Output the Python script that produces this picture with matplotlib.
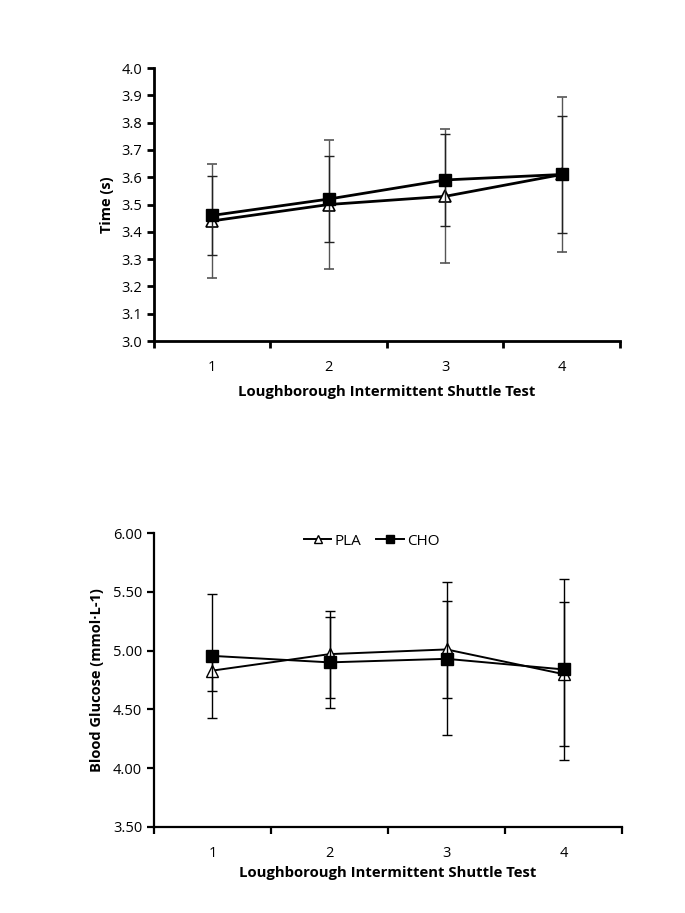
import matplotlib

matplotlib.use("Agg")
import matplotlib.pyplot as plt
from matplotlib.ticker import FixedLocator, FormatStrFormatter

trials = [1, 2, 3, 4]

# sprint time (s)
time_pla = [3.44, 3.50, 3.53, 3.61]
time_pla_sd = [0.21, 0.235, 0.245, 0.285]
time_cho = [3.46, 3.52, 3.59, 3.61]
time_cho_sd = [0.146, 0.157, 0.167, 0.216]

# blood glucose (mmol/L)
glu_pla = [4.83, 4.97, 5.01, 4.80]
glu_pla_sd = [0.17, 0.37, 0.41, 0.61]
glu_cho = [4.955, 4.90, 4.93, 4.84]
glu_cho_sd = [0.53, 0.39, 0.65, 0.77]

plt.rcParams["font.family"] = ["Open Sans", "DejaVu Sans"]

fig = plt.figure(figsize=(6.85, 9.13), dpi=100)
ax1 = fig.add_axes([0.2248, 0.6265, 0.6803, 0.299])
ax2 = fig.add_axes([0.2248, 0.0942, 0.6833, 0.3220])


def style(ax, lw):
    for s in ("top", "right"):
        ax.spines[s].set_visible(False)
    for s in ("left", "bottom"):
        ax.spines[s].set_linewidth(lw)
    ax.set_xlim(0.5, 4.5)
    ax.set_xticks(trials)
    ax.xaxis.set_minor_locator(FixedLocator([0.5, 1.5, 2.5, 3.5, 4.5]))
    ax.tick_params(axis="x", which="major", length=0, pad=14, labelsize=10.5)
    ax.tick_params(axis="x", which="minor", length=5, width=lw, direction="out")
    ax.tick_params(axis="y", length=5, width=lw, direction="out", labelsize=10.5)


# top: sprint time
style(ax1, 2.0)
ax1.errorbar(trials, time_pla, yerr=time_pla_sd, color="black", lw=2.0,
             marker="^", ms=8, mfc="white", mec="black", mew=1.2,
             ecolor="#555555", elinewidth=1.0, capsize=3.5, capthick=1.0, zorder=3)
ax1.errorbar(trials, time_cho, yerr=time_cho_sd, color="black", lw=2.0,
             marker="s", ms=9, mfc="black", mec="black",
             ecolor="#222222", elinewidth=1.0, capsize=3.5, capthick=1.0, zorder=4)
ax1.set_ylim(3.0, 4.0)
ax1.set_yticks([3.0 + 0.1 * i for i in range(11)])
ax1.yaxis.set_major_formatter(FormatStrFormatter("%.1f"))
ax1.set_ylabel("Time (s)", fontsize=10.5, fontweight="bold", labelpad=5)
ax1.set_xlabel("Loughborough Intermittent Shuttle Test", fontsize=10.7,
               fontweight="bold", labelpad=7)

# bottom: blood glucose
style(ax2, 1.6)
ax2.errorbar(trials, glu_pla, yerr=glu_pla_sd, color="black", lw=1.4,
             marker="^", ms=8, mfc="white", mec="black", mew=1.0,
             ecolor="black", elinewidth=1.0, capsize=3.5, capthick=1.0,
             label="PLA", zorder=3)
ax2.errorbar(trials, glu_cho, yerr=glu_cho_sd, color="black", lw=1.4,
             marker="s", ms=8, mfc="black", mec="black",
             ecolor="black", elinewidth=1.0, capsize=3.5, capthick=1.0,
             label="CHO", zorder=4)
ax2.set_ylim(3.5, 6.0)
ax2.set_yticks([3.5, 4.0, 4.5, 5.0, 5.5, 6.0])
ax2.yaxis.set_major_formatter(FormatStrFormatter("%.2f"))
ax2.set_ylabel("Blood Glucose (mmol\u00b7L-1)", fontsize=10.5, fontweight="bold", labelpad=6)
ax2.set_xlabel("Loughborough Intermittent Shuttle Test", fontsize=10.7,
               fontweight="bold", labelpad=3)
handles, labels = ax2.get_legend_handles_labels()
handles = [h[0] for h in handles]
ax2.legend(handles, labels, loc="upper center", bbox_to_anchor=(0.465, 1.045), ncol=2,
           frameon=False, fontsize=11, handlelength=1.8, handletextpad=0.2,
           columnspacing=1.0, markerscale=0.8)

fig.savefig("out.png", dpi=100)
